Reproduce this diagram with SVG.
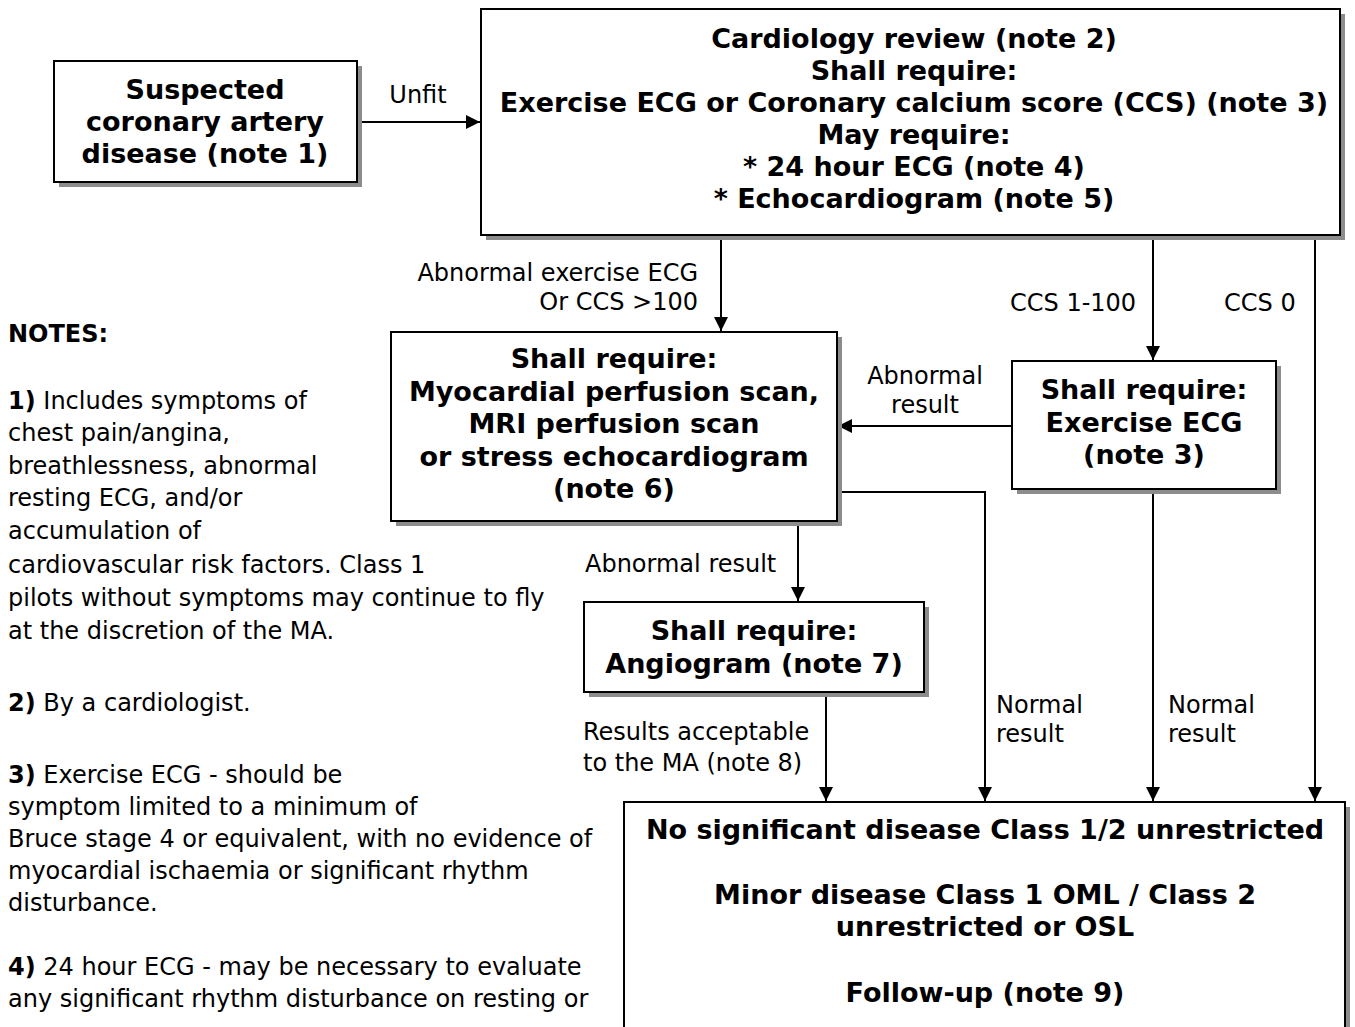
<svg xmlns="http://www.w3.org/2000/svg" width="1355" height="1027" viewBox="0 0 1355 1027">
<style>
text{font-family:"DejaVu Sans",Verdana,sans-serif;fill:#000}
.b{font-weight:bold;font-size:27px;text-anchor:middle}
.r{font-size:24px}
.n{font-size:24px}
.box{fill:#fff;stroke:#000;stroke-width:2}
.sh{fill:#8c8c8c}
.c{fill:none;stroke:#000;stroke-width:2}
</style>
<defs>
<marker id="ah" markerUnits="userSpaceOnUse" markerWidth="14" markerHeight="14" refX="14" refY="7" orient="auto">
<path d="M0,0 L14,7 L0,14 z" fill="#000"/>
</marker>
</defs>
<rect width="1355" height="1027" fill="#fff"/>

<g id="connectors">
<line class="c" x1="357" y1="122" x2="480" y2="122" marker-end="url(#ah)"/>
<line class="c" x1="721" y1="235" x2="721" y2="331" marker-end="url(#ah)"/>
<line class="c" x1="1153" y1="235" x2="1153" y2="360" marker-end="url(#ah)"/>
<line class="c" x1="1315" y1="235" x2="1315" y2="801" marker-end="url(#ah)"/>
<line class="c" x1="1012" y1="426" x2="838" y2="426" marker-end="url(#ah)"/>
<line class="c" x1="798" y1="521" x2="798" y2="601" marker-end="url(#ah)"/>
<polyline class="c" points="837,492 985,492 985,801" marker-end="url(#ah)"/>
<line class="c" x1="1153" y1="489" x2="1153" y2="801" marker-end="url(#ah)"/>
<line class="c" x1="826" y1="692" x2="826" y2="801" marker-end="url(#ah)"/>
<text class="r" x="418" y="103" text-anchor="middle">Unfit</text>
<text class="r" x="698" y="281" text-anchor="end">Abnormal exercise ECG</text>
<text class="r" x="698" y="310" text-anchor="end">Or CCS &gt;100</text>
<text class="r" x="1010" y="311">CCS 1-100</text>
<text class="r" x="1224" y="311">CCS 0</text>
<text class="r" x="925" y="384" text-anchor="middle">Abnormal</text>
<text class="r" x="925" y="413" text-anchor="middle">result</text>
<text class="r" x="585" y="572">Abnormal result</text>
<text class="r" x="583" y="740">Results acceptable</text>
<text class="r" x="583" y="771">to the MA (note 8)</text>
<text class="r" x="996" y="713">Normal</text>
<text class="r" x="996" y="742">result</text>
<text class="r" x="1168" y="713">Normal</text>
<text class="r" x="1168" y="742">result</text>
</g>

<g id="suspected">
<rect class="sh" x="59" y="66" width="303" height="121"/>
<rect class="box" x="54" y="61" width="303" height="121"/>
<text class="b" x="205" y="99">Suspected</text>
<text class="b" x="205" y="131">coronary artery</text>
<text class="b" x="205" y="163">disease (note 1)</text>
</g>

<g id="cardiology">
<rect class="sh" x="486" y="14" width="859" height="226"/>
<rect class="box" x="481" y="9" width="859" height="226"/>
<text class="b" x="914" y="48">Cardiology review (note 2)</text>
<text class="b" x="914" y="80">Shall require:</text>
<text class="b" x="914" y="112">Exercise ECG or Coronary calcium score (CCS) (note 3)</text>
<text class="b" x="914" y="144">May require:</text>
<text class="b" x="914" y="176">* 24 hour ECG (note 4)</text>
<text class="b" x="914" y="208">* Echocardiogram (note 5)</text>
</g>

<g id="perfusion">
<rect class="sh" x="396" y="337" width="446" height="189"/>
<rect class="box" x="391" y="332" width="446" height="189"/>
<text class="b" x="614" y="368">Shall require:</text>
<text class="b" x="614" y="401">Myocardial perfusion scan,</text>
<text class="b" x="614" y="433">MRI perfusion scan</text>
<text class="b" x="614" y="466">or stress echocardiogram</text>
<text class="b" x="614" y="498">(note 6)</text>
</g>

<g id="exercise">
<rect class="sh" x="1017" y="366" width="264" height="128"/>
<rect class="box" x="1012" y="361" width="264" height="128"/>
<text class="b" x="1144" y="399">Shall require:</text>
<text class="b" x="1144" y="432">Exercise ECG</text>
<text class="b" x="1144" y="464">(note 3)</text>
</g>

<g id="angiogram">
<rect class="sh" x="589" y="607" width="340" height="90"/>
<rect class="box" x="584" y="602" width="340" height="90"/>
<text class="b" x="754" y="640">Shall require:</text>
<text class="b" x="754" y="673">Angiogram (note 7)</text>
</g>

<g id="outcome">
<rect class="sh" x="629" y="807" width="721" height="240"/>
<rect class="box" x="624" y="802" width="721" height="240"/>
<text class="b" x="985" y="839">No significant disease Class 1/2 unrestricted</text>
<text class="b" x="985" y="904">Minor disease Class 1 OML / Class 2</text>
<text class="b" x="985" y="936">unrestricted or OSL</text>
<text class="b" x="985" y="1002">Follow-up (note 9)</text>
</g>

<g id="notes" class="n">
<text x="8" y="342" font-weight="bold">NOTES:</text>
<text x="8" y="409"><tspan font-weight="bold">1)</tspan> Includes symptoms of</text>
<text x="8" y="441">chest pain/angina,</text>
<text x="8" y="474">breathlessness, abnormal</text>
<text x="8" y="506">resting ECG, and/or</text>
<text x="8" y="539">accumulation of</text>
<text x="8" y="573">cardiovascular risk factors. Class 1</text>
<text x="8" y="606">pilots without symptoms may continue to fly</text>
<text x="8" y="639">at the discretion of the MA.</text>
<text x="8" y="711"><tspan font-weight="bold">2)</tspan> By a cardiologist.</text>
<text x="8" y="783"><tspan font-weight="bold">3)</tspan> Exercise ECG - should be</text>
<text x="8" y="815">symptom limited to a minimum of</text>
<text x="8" y="847">Bruce stage 4 or equivalent, with no evidence of</text>
<text x="8" y="879">myocardial ischaemia or significant rhythm</text>
<text x="8" y="911">disturbance.</text>
<text x="8" y="975"><tspan font-weight="bold">4)</tspan> 24 hour ECG - may be necessary to evaluate</text>
<text x="8" y="1007">any significant rhythm disturbance on resting or</text>
</g>
</svg>
